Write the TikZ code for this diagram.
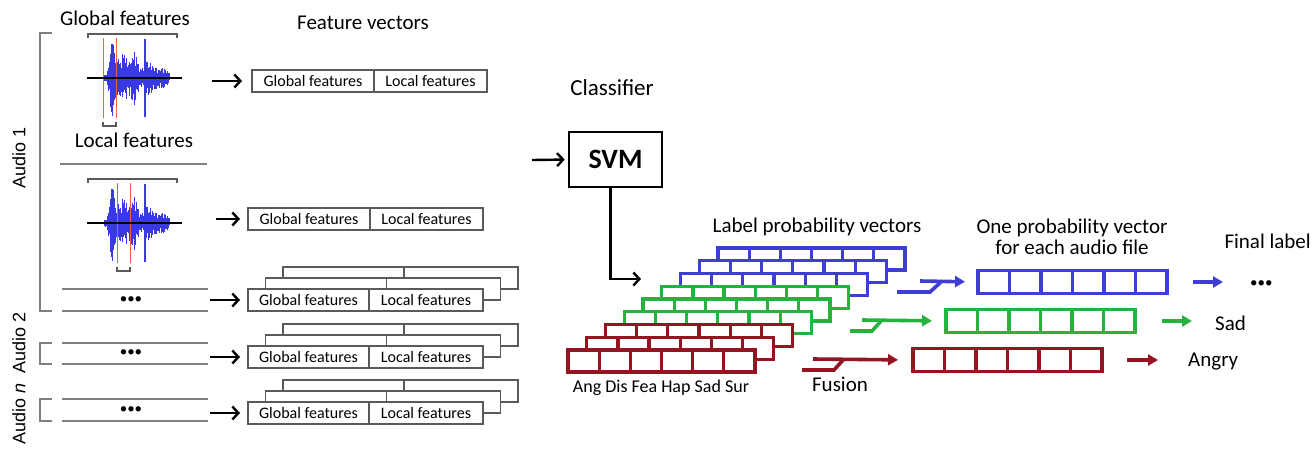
\documentclass[tikz,border=0pt]{standalone}
\usepackage{fontspec}
\setmainfont{Carlito}
\newfontfamily\audiofont{Liberation Sans}
\usetikzlibrary{arrows.meta,positioning}

\definecolor{wblue}{RGB}{58,58,228}
\definecolor{wred}{RGB}{236,96,70}
\definecolor{pblue}{RGB}{62,62,212}
\definecolor{pgreen}{RGB}{38,178,62}
\definecolor{pred}{RGB}{150,20,34}
\definecolor{lgray}{RGB}{128,128,128}
\definecolor{bgray}{RGB}{90,90,90}

\begin{document}
\begin{tikzpicture}[x=1pt,y=-1pt,
  title/.style={font=\fontsize{21}{21}\selectfont},
  audio/.style={font=\audiofont\fontsize{18}{21}\selectfont, rotate=90},
  dots/.style={font=\fontsize{15}{16}\selectfont},
  grayline/.style={lgray, line width=2.2pt},
  featcell/.style={draw=bgray, line width=1.3pt, fill=white, minimum height=22pt,
    inner sep=0pt, outer sep=0pt, font=\fontsize{16}{19}\selectfont},
  blackarrow/.style={-{Straight Barb[length=6pt,width=13pt,line width=2.4pt]}, line width=2.4pt},
  colarrow/.style={-{Triangle[length=10pt,width=11pt]}, line width=3.6pt},
  probcell/.style={line width=3.2pt, fill=white},
  fused/.style={draw, line width=3.4pt, minimum width=189pt, minimum height=23pt,
    inner sep=0pt, outer sep=0pt}]
\useasboundingbox (0,0) rectangle (1312,448);

% audio brackets
\draw[grayline] (52,33) -- (40,33) -- (40,311) -- (52,311);
\draw[grayline] (52,343) -- (40,343) -- (40,364) -- (52,364);
\draw[grayline] (52,399) -- (40,399) -- (40,421) -- (52,421);
\node[audio] (au1) at (19,158) {Audio 1};
\node[audio] (au2) at (19,343) {Audio 2};
\node[audio] (aun) at (19,414) {Audio \textit{n}};

\draw[grayline] (60,164) -- (207,164);
\foreach \t/\b/\m [count=\r] in {289/311/300,343/364/353,399/421/410}{
  \draw[grayline] (62,\t) -- (208,\t);
  \draw[grayline] (62,\b) -- (208,\b);
  \node[dots] (dot\r) at (131,\m) {•••};
}

% waveforms with frame windows
\foreach \sy/\ra/\rb in {78/103/116,223/117/130}{
\begin{scope}[shift={(0,\sy)}]
\pgfmathsetseed{31}
\foreach \x in {104,104.6,...,170}{
  \pgfmathsetmacro\env{4+30*exp(max(-9,-(\x-112)*(\x-112)/8))
    +20*exp(max(-9,-(\x-123)*(\x-123)/90))
    +20*exp(max(-9,-(\x-135)*(\x-135)/18))
    +13*exp(max(-9,-(\x-148)*(\x-148)/35))
    +7*exp(max(-9,-(\x-160)*(\x-160)/60))}
  \pgfmathsetmacro\up{\env*(0.4+0.6*rnd)}
  \pgfmathsetmacro\dn{\env*(0.4+0.6*rnd)}
  \draw[wblue, line width=0.9pt] (\x,-\up) -- (\x,\dn);
}
\draw[wblue, line width=1.6pt] (112,-34) -- (112,33);
\draw[wblue, line width=1.4pt] (145,-39) -- (145,39);
\draw[wred, line width=1pt] (\ra,-40) -- (\ra,40);
\draw[wred, line width=1pt] (\rb,-40) -- (\rb,40);
\draw[line width=2.6pt] (87,0) -- (182,0);
\draw[bgray, line width=1.3pt] (88,-40) -- (88,-44) -- (177,-44) -- (177,-40);
\draw[bgray, line width=1.3pt] (\ra,44) -- (\ra,48) -- (\rb,48) -- (\rb,44);
\end{scope}
}

\node[title] (globtxt) at (125,18) {Global features};
\node[title] (loctxt) at (134,140) {Local features};
\node[title] (fvtxt) at (363,23) {Feature vectors};

% feature vectors
\node[featcell, minimum width=122pt, anchor=west] (g1) at (252,81) {Global features};
\node[featcell, minimum width=113pt, right=0pt of g1] (l1) {Local features};
\node[featcell, minimum width=122pt, anchor=west] (g2) at (248,219) {Global features};
\node[featcell, minimum width=113pt, right=0pt of g2] (l2) {Local features};

\foreach \t [count=\r from 3] in {289,346,402}{
  \foreach \d in {2,1}{
    \draw[bgray, line width=1.3pt, fill=white] (248+17.5*\d,\t-11*\d) rectangle ++(235,22);
    \draw[bgray, line width=1.3pt] (369+17.5*\d,\t-11*\d) -- ++(0,22);
  }
  \node[featcell, minimum width=121pt, anchor=west] (g\r) at (248,\t+11) {Global features};
  \node[featcell, minimum width=114pt, right=0pt of g\r] (l\r) {Local features};
}

\coordinate (a1) at (212,81);
\coordinate (a2) at (216,219);
\coordinate (a3) at (210,300);
\coordinate (a4) at (210,357);
\coordinate (a5) at (210,413);
\draw[blackarrow, shorten >=10pt] (a1) -- (g1.west);
\foreach \r in {2,...,5}
  \draw[blackarrow, shorten >=8pt] (a\r) -- (g\r.west);

% classifier
\node[title, font=\fontsize{23}{23}\selectfont] (clstxt) at (612,88) {Classifier};
\node[draw, line width=2.6pt, minimum width=93pt, minimum height=55pt,
  font=\bfseries\fontsize{28}{28}\selectfont] (svm) at (615.5,159.5) {SVM};
\coordinate (svmin) at (532,160);
\draw[blackarrow, shorten >=3pt] (svmin) -- (svm.west);
\coordinate (stackin) at (641,279);
\draw[blackarrow] ([xshift=-5pt]svm.south) |- (stackin);

% label probability vectors
\foreach \i in {8,7,...,0}{
  \pgfmathsetmacro\px{568+18.75*\i}
  \pgfmathsetmacro\py{350-12.75*\i}
  \ifnum\i>5 \def\pc{pblue}\else\ifnum\i>2 \def\pc{pgreen}\else\def\pc{pred}\fi\fi
  \draw[probcell, draw=\pc] (\px,\py) rectangle ++(187,22);
  \foreach \k in {1,...,5}
    \draw[\pc, line width=3.2pt] (\px+31.17*\k,\py) -- ++(0,22);
}
\node[title] (lpv) at (817,227) {Label probability vectors};
\node[font=\fontsize{18}{18}\selectfont] (emo) at (661,388) {Ang Dis Fea Hap Sad Sur};

% fused vectors
\node[fused, draw=pblue] (fblue) at (1072.5,282) {};
\node[fused, draw=pgreen] (fgreen) at (1040.5,321) {};
\node[fused, draw=pred] (fred) at (1007.5,360) {};
\foreach \n/\c in {fblue/pblue,fgreen/pgreen,fred/pred}
  \foreach \k in {1,...,5}
    \draw[\c, line width=3.4pt] ([xshift=31.5*\k]\n.north west) -- ([xshift=31.5*\k]\n.south west);
\node[title, align=center] (opv) at (1072,237) {One probability vector\\for each audio file};

% fusion
\coordinate (fuB) at (897,292);
\coordinate (fuG) at (850,331);
\coordinate (fuR) at (802,370);
\draw[pblue, line width=3.6pt] (fuB) -- ++(33,0) -- ++(12,-11) coordinate (jB);
\draw[pblue, colarrow, shorten >=13pt] ([xshift=-22pt]jB) -- (fblue.west);
\draw[pgreen, line width=3.6pt] (fuG) -- ++(22,0) -- ++(10,-11) coordinate (jG);
\draw[pgreen, colarrow, shorten >=14pt] ([xshift=-20pt]jG) -- (fgreen.west);
\draw[pred, line width=3.6pt] (fuR) -- ++(32,0) -- ++(10,-11) coordinate (jR);
\draw[pred, colarrow, shorten >=15pt] ([xshift=-31pt]jR) -- (fred.west);
\node[title] (fus) at (840,384) {Fusion};

% final labels
\node[title, anchor=east, inner sep=1pt] (fl) at (1312,241) {Final label};
\node[dots, anchor=west, inner sep=0pt] (resB) at (1250,284) {•••};
\node[title, anchor=west, inner sep=0pt] (resG) at (1215,323) {Sad};
\node[title, anchor=west, inner sep=0pt] (resR) at (1188,362) {Angry};
\draw[colarrow, pblue, shorten <=26pt, shorten >=27pt] (fblue.east) -- (fblue.east -| resB.west);
\draw[colarrow, pgreen, shorten <=27pt, shorten >=23pt] (fgreen.east) -- (fgreen.east -| resG.west);
\draw[colarrow, pred, shorten <=25pt, shorten >=30pt] (fred.east) -- (fred.east -| resR.west);

\end{tikzpicture}
\end{document}
